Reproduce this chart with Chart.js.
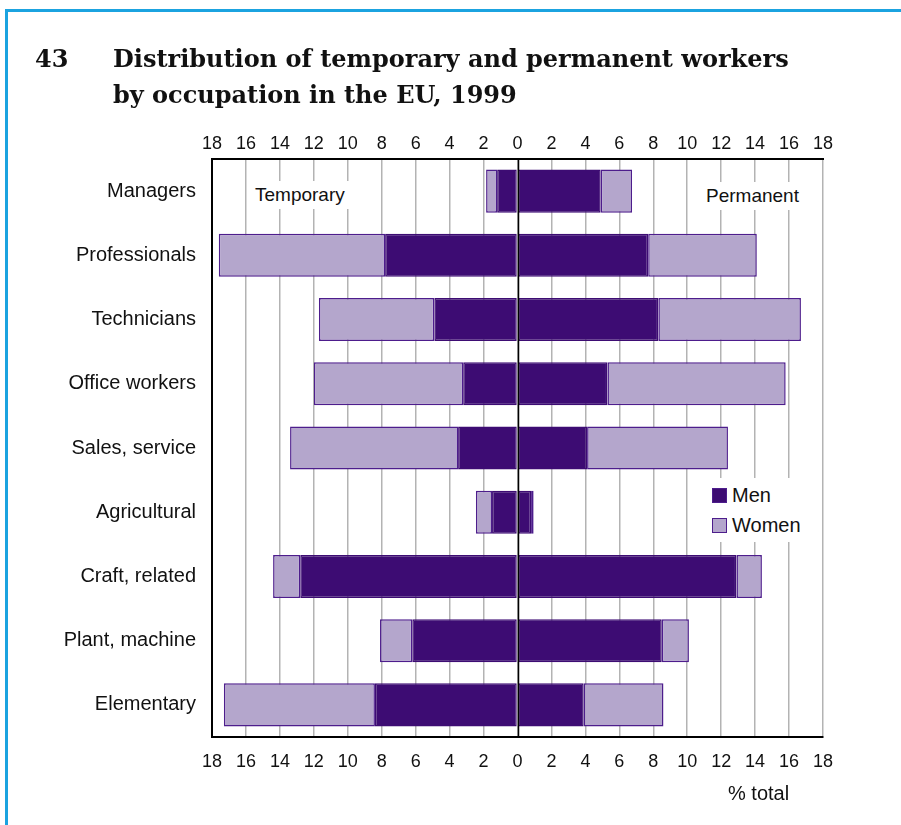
<!DOCTYPE html>
<html>
<head>
<meta charset="utf-8">
<script src="https://cdn.jsdelivr.net/npm/chart.js@4.4.1/dist/chart.umd.min.js"></script>
<style>
  html, body { margin: 0; padding: 0; background: #fff; }
  #page { position: relative; width: 901px; height: 825px; overflow: hidden; font-family: "Liberation Sans", Arial, sans-serif; }
  #frameTop { position: absolute; left: 5px; top: 9px; width: 900px; height: 3px; background: #1ba3e0; }
  #frameLeft { position: absolute; left: 5px; top: 9px; width: 3px; height: 820px; background: #1ba3e0; }
  #chart { position: absolute; left: 0; top: 0; }
  .title { position: absolute; font-family: "DejaVu Serif", serif; font-weight: bold; font-size: 24px; line-height: 36px; color: #111; }
  .tag { position: absolute; background: #fff; font-size: 19px; color: #111; padding: 4px 6px; line-height: 20px; }
  #legend { position: absolute; left: 708px; top: 478px; background: #fff; padding: 2px 4px; font-size: 20px; color: #111; line-height: 30px; }
  #legend .sw { display: inline-block; width: 13px; height: 13px; border: 1px solid #4d1d8c; margin-right: 5px; vertical-align: -1px; }
  #unit { position: absolute; left: 728px; top: 782px; font-size: 20px; color: #111; }
</style>
</head>
<body>
<div id="page">
  <canvas id="chart" width="901" height="825"></canvas>
  <div id="frameTop"></div>
  <div id="frameLeft"></div>
  <div class="title" style="left:35px; top:41px;">43</div>
  <div class="title" style="left:113px; top:41px;">Distribution of temporary and permanent workers<br>by occupation in the EU, 1999</div>
  <div class="tag" style="left:249px; top:181px;">Temporary</div>
  <div class="tag" style="left:700px; top:182px;">Permanent</div>
  <div id="legend">
    <div><span class="sw" style="background:#3d0c73"></span>Men</div>
    <div><span class="sw" style="background:#b4a6cc"></span>Women</div>
  </div>
  <div id="unit">% total</div>
</div>
<script>
const occupations = ['Managers', 'Professionals', 'Technicians', 'Office workers', 'Sales, service',
    'Agricultural', 'Craft, related', 'Plant, machine', 'Elementary'];
// % of total
const tempMen = [1.2, 7.8, 4.9, 3.2, 3.5, 1.5, 12.8, 6.2, 8.4];
const tempWomen = [0.65, 9.8, 6.8, 8.8, 9.9, 0.95, 1.6, 1.9, 8.9];
const permMen = [4.9, 7.7, 8.3, 5.3, 4.1, 0.8, 12.9, 8.5, 3.9];
const permWomen = [1.85, 6.4, 8.4, 10.5, 8.3, 0.15, 1.5, 1.6, 4.7];
const axisTicks = [-18, -16, -14, -12, -10, -8, -6, -4, -2, 0, 2, 4, 6, 8, 10, 12, 14, 16, 18];

const menColor = '#3d0c73';
const womenColor = '#b4a6cc';
const edgeColor = '#4d1d8c';

// the zero line sits on top of the bars
const zeroLine = {
    id: 'zeroLine',
    afterDatasetsDraw(chart) {
        const x = Math.round(chart.scales.x.getPixelForValue(0)) + 0.5;
        const ctx = chart.ctx;
        ctx.save();
        ctx.strokeStyle = '#000';
        ctx.lineWidth = 1.5;
        ctx.beginPath();
        ctx.moveTo(x, chart.chartArea.top);
        ctx.lineTo(x, chart.chartArea.bottom);
        ctx.stroke();
        ctx.restore();
    }
};

function barSet(label, values, color, edge, sign) {
    return {
        label: label,
        data: values.map(v => sign * v),
        backgroundColor: color,
        borderColor: edge,
        borderWidth: 1.5,
        borderSkipped: false,
        stack: 'all',
        barPercentage: 0.67,
        categoryPercentage: 1
    };
}

const tickFont = { family: '"Liberation Sans", Arial, sans-serif', size: 18 };

new Chart(document.getElementById('chart').getContext('2d'), {
    type: 'bar',
    data: {
        labels: occupations,
        datasets: [
            barSet('Men', tempMen, menColor, menColor, -1),
            barSet('Women', tempWomen, womenColor, edgeColor, -1),
            barSet('Men', permMen, menColor, menColor, 1),
            barSet('Women', permWomen, womenColor, edgeColor, 1)
        ]
    },
    options: {
        indexAxis: 'y',
        responsive: false,
        animation: false,
        layout: { padding: { left: 0, right: 78, top: 0, bottom: 0 } },
        plugins: { legend: { display: false }, tooltip: { enabled: false } },
        scales: {
            x: {
                type: 'linear', position: 'bottom', stacked: true, min: -18, max: 18,
                afterBuildTicks: s => { s.ticks = axisTicks.map(v => ({ value: v })); },
                afterFit: s => { s.height = 88; },
                ticks: { callback: v => Math.abs(v), color: '#111', font: tickFont, padding: 14, maxRotation: 0, autoSkip: false },
                grid: { color: '#b3b3b3', lineWidth: 1.5, drawTicks: false },
                border: { color: '#000', width: 2 }
            },
            x2: {
                type: 'linear', axis: 'x', position: 'top', min: -18, max: 18,
                afterBuildTicks: s => { s.ticks = axisTicks.map(v => ({ value: v })); },
                afterFit: s => { s.height = 159; },
                ticks: { callback: v => Math.abs(v), color: '#111', font: tickFont, padding: 4, maxRotation: 0, autoSkip: false },
                grid: { drawOnChartArea: false, drawTicks: false },
                border: { color: '#000', width: 2 }
            },
            y: {
                stacked: true,
                afterFit: s => { s.width = 212; },
                ticks: { color: '#111', font: { family: '"Liberation Sans", Arial, sans-serif', size: 20 }, padding: 8 },
                grid: { display: false },
                border: { color: '#000', width: 2 }
            }
        }
    },
    plugins: [zeroLine]
});
</script>
</body>
</html>
